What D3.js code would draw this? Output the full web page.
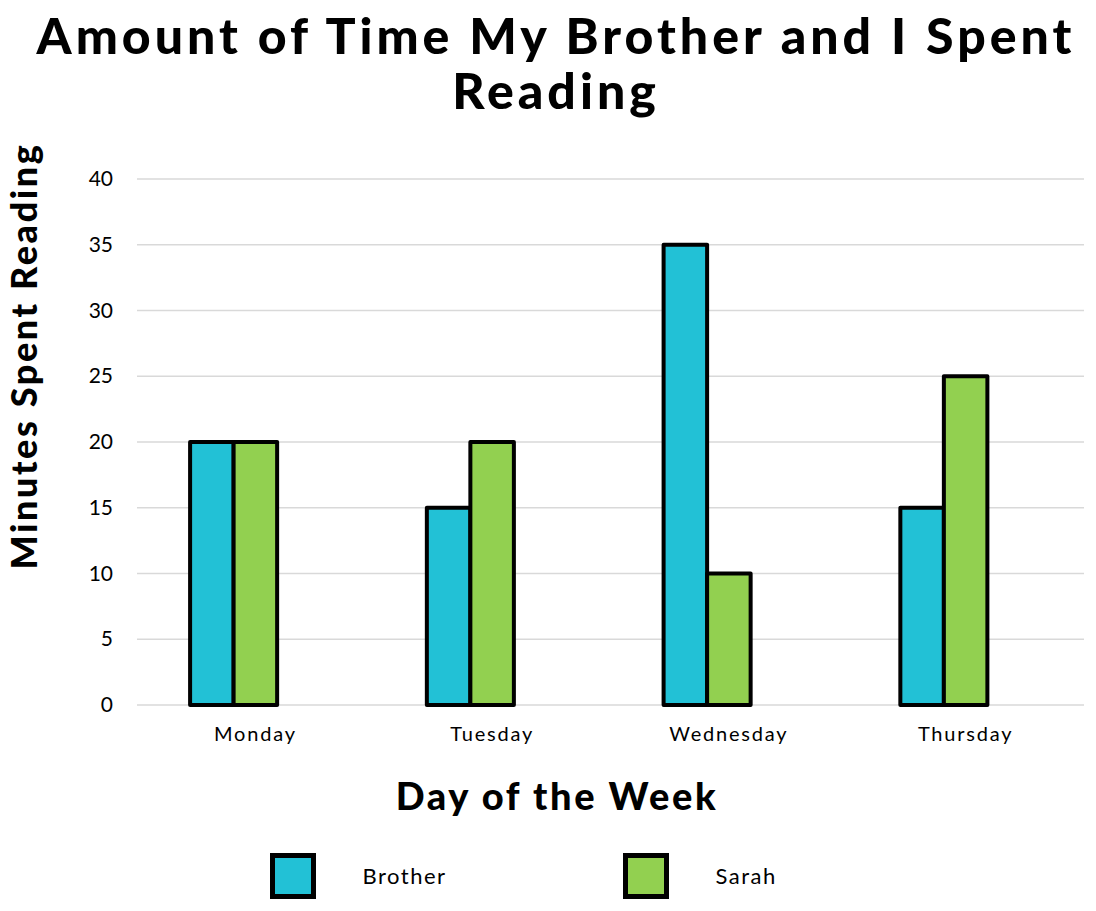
<!DOCTYPE html>
<html>
<head>
<meta charset="utf-8">
<script src="https://cdn.jsdelivr.net/npm/d3@7"></script>
<style>
  body { margin: 0; background: #fff; }
  .tick-font { font-family: "Lato", "Noto Sans", sans-serif; }
</style>
</head>
<body>
<div id="chart"></div>
<script>
// Reading chart: two series of grouped bars per day

const days = ["Monday", "Tuesday", "Wednesday", "Thursday"];
const seriesNames = ["Brother", "Sarah"];
const brotherMinutes = [20, 15, 35, 15];
const sarahMinutes = [20, 20, 10, 25];
const yTicks = [0, 5, 10, 15, 20, 25, 30, 35, 40];
const colors = ["#22C1D6", "#92D050"];

const width = 1096;
const height = 911;
const margin = {top: 179, right: 12, bottom: 206, left: 137};

const svg = d3.select("#chart")
    .append("svg")
    .attr("width", width)
    .attr("height", height);

// Build rows from the arrays
const rows = days.map((day, i) => ({
    day,
    values: [
        {name: seriesNames[0], value: brotherMinutes[i]},
        {name: seriesNames[1], value: sarahMinutes[i]}
    ]
}));

const x0 = d3.scaleBand()
    .domain(days)
    .range([margin.left, width - margin.right])
    .padding(0);

// third empty slot, same as the original chart's spacing
const x1 = d3.scaleBand()
    .domain([...seriesNames, "_empty"])
    .range([0, x0.bandwidth()])
    .paddingInner(0)
    .paddingOuter(1.22);

const y = d3.scaleLinear()
    .domain([0, 40])
    .range([height - margin.bottom, margin.top]);

const color = d3.scaleOrdinal().domain(seriesNames).range(colors);

// Gridlines
svg.append("g")
    .selectAll("line")
    .data(yTicks)
    .enter()
    .append("line")
    .attr("x1", margin.left)
    .attr("x2", width - margin.right)
    .attr("y1", d => y(d))
    .attr("y2", d => y(d))
    .attr("stroke", "#d9d9d9")
    .attr("stroke-width", 1.5);

// Y axis labels
const yAxis = svg.append("g")
    .attr("transform", `translate(${margin.left}, 0)`)
    .call(d3.axisLeft(y).tickValues(yTicks).tickSize(0).tickPadding(24));
yAxis.select(".domain").remove();
yAxis.selectAll("text")
    .attr("class", "tick-font")
    .style("font-size", "21px")
    .attr("fill", "#000");

// X axis labels
const xAxis = svg.append("g")
    .attr("transform", `translate(0, ${height - margin.bottom})`)
    .call(d3.axisBottom(x0).tickSize(0).tickPadding(22));
xAxis.select(".domain").remove();
xAxis.selectAll("text")
    .attr("class", "tick-font")
    .style("font-size", "20px")
    .style("letter-spacing", "1.8px")
    .attr("fill", "#000");

// Bars
svg.append("g")
    .selectAll("g")
    .data(rows)
    .enter()
    .append("g")
    .attr("transform", d => `translate(${x0(d.day)}, 0)`)
    .selectAll("rect")
    .data(d => d.values)
    .enter()
    .append("rect")
    .attr("x", d => x1(d.name))
    .attr("y", d => y(d.value))
    .attr("width", x1.bandwidth())
    .attr("height", d => y(0) - y(d.value))
    .attr("fill", d => color(d.name))
    .attr("stroke", "#000")
    .attr("stroke-width", 4)
    .attr("stroke-linejoin", "round");

// Title
const title = svg.append("text")
    .attr("x", width / 2)
    .attr("text-anchor", "middle")
    .style("font-family", "Lato, sans-serif")
    .style("font-weight", 900)
    .style("font-size", "50px")
    .style("letter-spacing", "4px");
title.append("tspan").attr("x", 556).attr("y", 54)
    .text("Amount of Time My Brother and I Spent");
title.append("tspan").attr("x", 556).attr("y", 109)
    .text("Reading");

// Axis titles
svg.append("text")
    .attr("transform", `translate(37, 356) rotate(-90)`)
    .attr("text-anchor", "middle")
    .style("font-family", "Lato, sans-serif")
    .style("font-weight", 900)
    .style("font-size", "36px")
    .style("letter-spacing", "2.6px")
    .text("Minutes Spent Reading");

svg.append("text")
    .attr("x", 557)
    .attr("y", 810)
    .attr("text-anchor", "middle")
    .style("font-family", "Lato, sans-serif")
    .style("font-weight", 900)
    .style("font-size", "38px")
    .style("letter-spacing", "2.6px")
    .text("Day of the Week");

// Legend
const legendX = [272.5, 625.5];
const legend = svg.append("g")
    .selectAll("g")
    .data(seriesNames)
    .enter()
    .append("g")
    .attr("transform", (d, i) => `translate(${legendX[i]}, 855.5)`);

legend.append("rect")
    .attr("width", 41)
    .attr("height", 41)
    .attr("fill", d => color(d))
    .attr("stroke", "#000")
    .attr("stroke-width", 5);

legend.append("text")
    .attr("class", "tick-font")
    .attr("x", 90)
    .attr("y", 21)
    .attr("dy", "0.35em")
    .style("font-size", "22px")
    .style("letter-spacing", "1.5px")
    .text(d => d);
</script>
</body>
</html>
